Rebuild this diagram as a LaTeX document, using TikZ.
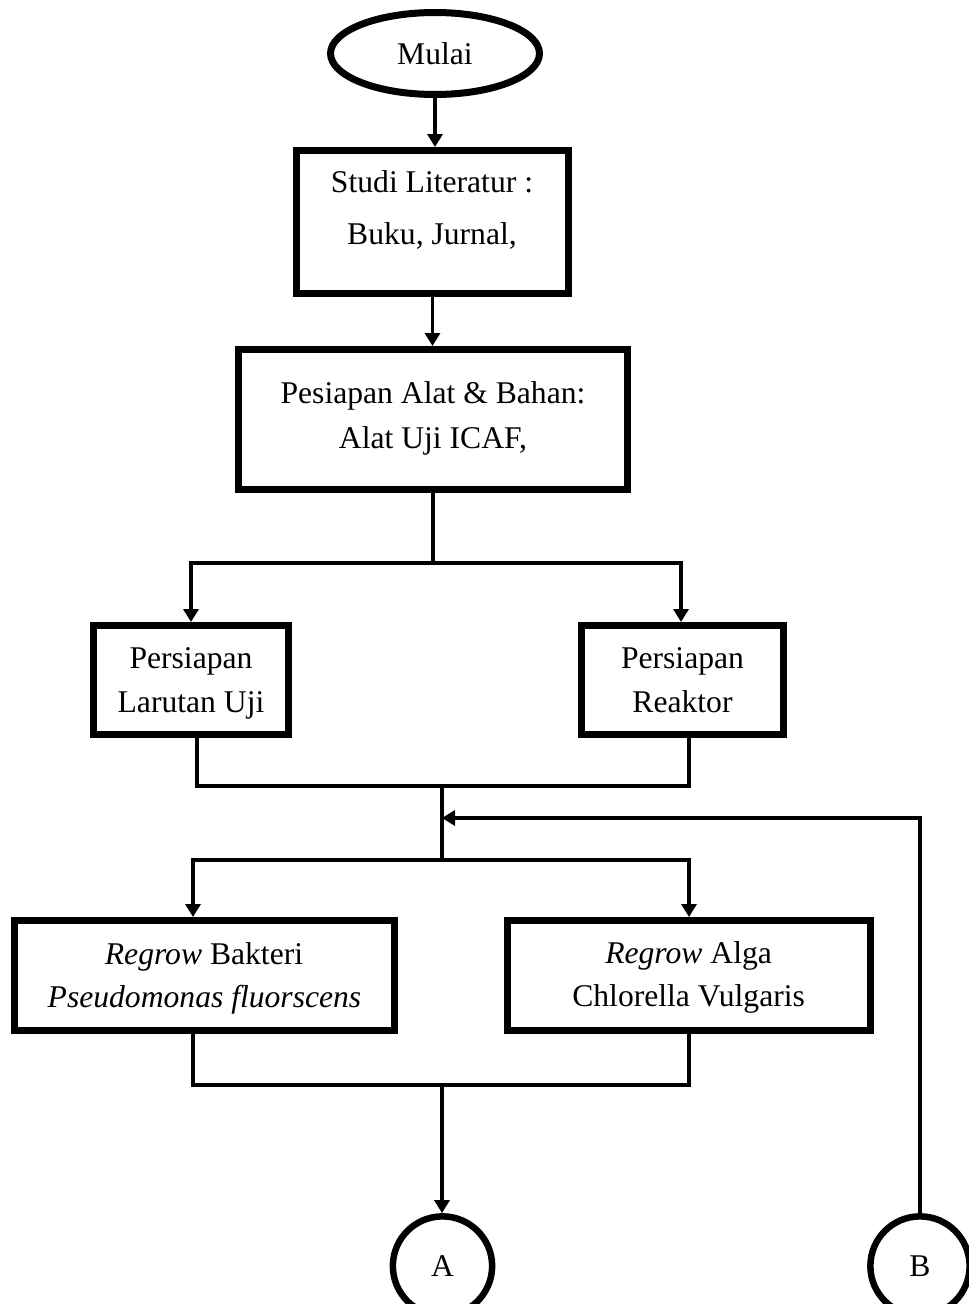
\documentclass[tikz,border=0pt]{standalone}
\usepackage{fontspec}
\setmainfont{Liberation Serif}
\usetikzlibrary{arrows.meta,shapes.geometric,calc}
\begin{document}
\begin{tikzpicture}[x=0.02cm,y=-0.02cm,
  boxnode/.style={draw, line width=0.14cm, rectangle, inner sep=0pt},
  termnode/.style={draw, line width=0.14cm, ellipse, inner sep=0pt, font=\fontsize{18}{22}\selectfont},
  connnode/.style={draw, line width=0.13cm, circle, inner sep=0pt, minimum size=1.986cm, font=\fontsize{18}{22}\selectfont},
  txt/.style={font=\fontsize{18}{22}\selectfont, inner sep=0pt, anchor=base},
  conn/.style={line width=0.07cm},
  arr/.style={conn, -{Triangle[length=0.26cm,width=0.3cm]}}]
\useasboundingbox (0,0) rectangle (969,1304);
\clip (0,0) rectangle (969,1304);
\fill[white] (0,0) rectangle (969,1304);

% terminal
\node[termnode, minimum width=4.18cm, minimum height=1.64cm] (mulai) at (435,53.5) {Mulai};

% boxes
\node[boxnode, minimum width=5.44cm, minimum height=2.86cm] (studi) at (432.5,222) {};
\node[txt] (studiA) at (432,193) {Studi Literatur :};
\node[txt] (studiB) at (432,244) {Buku, Jurnal,};

\node[boxnode, minimum width=7.78cm, minimum height=2.80cm] (pes) at (433,419.5) {};
\node[txt] (pesA) at (433,403) {Pesiapan Alat \& Bahan:};
\node[txt] (pesB) at (433,448) {Alat Uji ICAF,};

\node[boxnode, minimum width=3.90cm, minimum height=2.18cm] (lar) at (191,680) {};
\node[txt] (larA) at (191,668) {Persiapan};
\node[txt] (larB) at (191,712) {Larutan Uji};

\node[boxnode, minimum width=4.04cm, minimum height=2.18cm] (rea) at (682.5,680) {};
\node[txt] (reaA) at (682.5,668) {Persiapan};
\node[txt] (reaB) at (682.5,712) {Reaktor};

\node[boxnode, minimum width=7.60cm, minimum height=2.20cm] (bak) at (204.5,975.5) {};
\node[txt] (bakA) at (204,964) {\textit{Regrow} Bakteri};
\node[txt] (bakB) at (204.5,1007) {\textit{Pseudomonas fluorscens}};

\node[boxnode, minimum width=7.26cm, minimum height=2.20cm] (alg) at (689,975.5) {};
\node[txt] (algA) at (688.6,963) {\textit{Regrow} Alga};
\node[txt] (algB) at (688.6,1006) {Chlorella Vulgaris};

% connectors (off-page)
\node[connnode] (nA) at (442.5,1266) {A};
\node[connnode] (nB) at (920,1266) {B};

% junction points
\coordinate (j1) at (433,563);
\coordinate (j2) at (442,786);
\coordinate (fb) at (442,818);
\coordinate (j3) at (442,860);
\coordinate (j4) at (442,1085);

% connectors
\draw[arr] (mulai.south) -- (mulai.south |- studi.north);
\draw[arr] (studi.south) -- (studi.south |- pes.north);
\draw[conn] (pes.south) -- (pes.south |- j1);
\draw[arr] (pes.south |- j1) -| (lar.north);
\draw[arr] (pes.south |- j1) -| ([xshift=-0.03cm]rea.north);

\draw[conn] ([xshift=0.12cm]lar.south) |- (j2) -| ([xshift=0.13cm]rea.south);
\draw[conn] (j2) -- (j3);
\draw[arr] (j3) -| ([xshift=-0.23cm]bak.north);
\draw[arr] (j3) -| (alg.north);

\draw[conn] ([xshift=-0.23cm]bak.south) |- (j4) -| (alg.south);
\draw[arr] (j4) -- (j4 |- nA.north);

\draw[arr] (nB.north) |- (fb);
\end{tikzpicture}
\end{document}
